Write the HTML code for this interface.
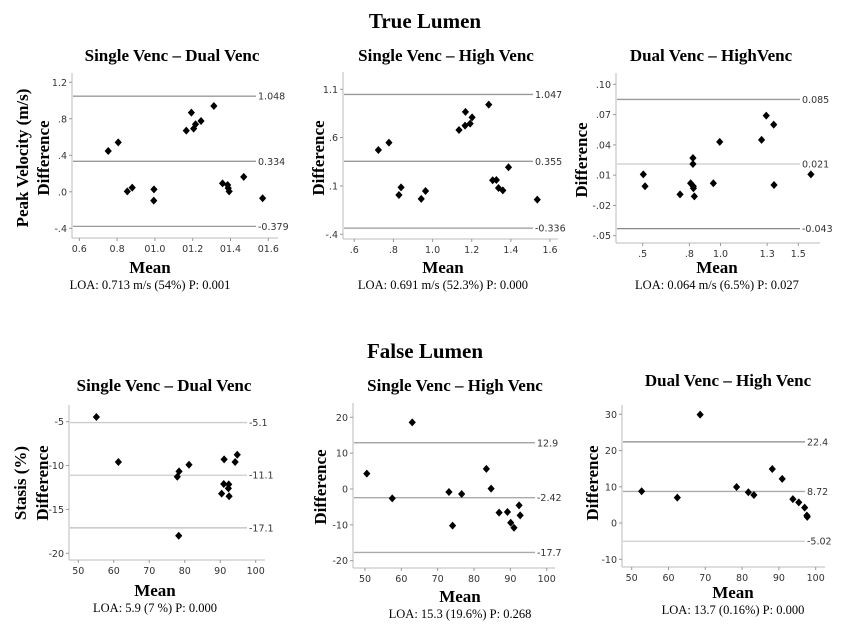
<!DOCTYPE html>
<html><head><meta charset="utf-8"><style>
html,body{margin:0;padding:0;background:#fff;}
svg{display:block;}
</style></head><body>
<svg id="fig" width="850" height="633" viewBox="0 0 850 633" xmlns="http://www.w3.org/2000/svg">
<text x="425" y="28" text-anchor="middle" font-family="Liberation Serif, serif" font-weight="bold" font-size="21">True Lumen</text>
<text x="425" y="358" text-anchor="middle" font-family="Liberation Serif, serif" font-weight="bold" font-size="21">False Lumen</text>
</svg>
<script>
// ---- data ----
const c1MeanX=[0.753,0.806,0.854,0.880,0.995,0.994,1.166,1.193,1.205,1.215,1.244,1.312,1.358,1.385,1.388,1.393,1.470,1.570];
const c1DiffY=[0.447,0.542,0.005,0.046,0.027,-0.097,0.670,0.867,0.692,0.740,0.776,0.940,0.093,0.075,0.040,0.005,0.163,-0.070];
const c1Loa=[1.048,0.334,-0.379];
const c1XTicks=["0.6","0.8","01.0","01.2","01.4","01.6"];
const c1YTicks=["1.2",".8",".4",".0","-.4"];

const c2MeanX=[0.723,0.777,0.839,0.828,0.942,0.964,1.135,1.166,1.168,1.192,1.202,1.287,1.307,1.326,1.337,1.359,1.388,1.535];
const c2DiffY=[0.472,0.548,0.086,0.007,-0.034,0.048,0.679,0.724,0.866,0.745,0.810,0.941,0.159,0.162,0.079,0.055,0.293,-0.041];
const c2Loa=[1.047,0.355,-0.336];
const c2XTicks=[".6",".8","1.0","1.2","1.4","1.6"];
const c2YTicks=["1.1",".6",".1","-.4"];

const c3MeanX=[0.504,0.515,0.740,0.808,0.823,0.823,0.825,0.826,0.832,0.954,0.995,1.264,1.294,1.342,1.344,1.581];
const c3DiffY=[0.0108,-0.001,-0.009,0.002,0.027,0.021,-0.001,-0.003,-0.011,0.002,0.043,0.045,0.069,0.060,0.0002,0.0108];
const c3Loa=[0.085,0.021,-0.043];
const c3XTicks=[".5",".8","1.0","1.3","1.5"];
const c3YTicks=[".10",".07",".04",".01","-.02","-.05"];

const c4MeanX=[55.1,61.3,77.9,78.4,78.3,81.2,91.1,94.2,94.8,91.0,92.4,92.3,90.4,92.5];
const c4DiffY=[-4.47,-9.6,-11.27,-10.66,-18.0,-9.9,-9.29,-9.6,-8.76,-12.1,-12.14,-12.6,-13.2,-13.5];
const c4Loa=[-5.1,-11.1,-17.1];
const c4XTicks=["50","60","70","80","90","100"];
const c4YTicks=["-5","-10","-15","-20"];

const c5MeanX=[50.5,57.5,63.0,73.1,74.1,76.6,83.4,84.7,86.9,89.2,90.1,91.0,92.4,92.7];
const c5DiffY=[4.28,-2.6,18.6,-0.84,-10.2,-1.4,5.6,0.1,-6.6,-6.4,-9.4,-10.8,-4.56,-7.35];
const c5Loa=[12.9,-2.42,-17.7];
const c5XTicks=["50","60","70","80","90","100"];
const c5YTicks=["20","10","0","-10","-20"];

const c6MeanX=[52.7,62.4,68.6,78.5,81.7,83.2,88.2,90.9,93.8,95.4,97.0,97.6,97.7];
const c6DiffY=[8.76,7.0,29.9,9.95,8.5,7.75,14.9,12.2,6.6,5.7,4.25,2.1,1.7];
const c6Loa=[22.4,8.72,-5.02];
const c6XTicks=["50","60","70","80","90","100"];
const c6YTicks=["30","20","10","0","-10"];

// ---- layout ----
const NS="http://www.w3.org/2000/svg";
const svg=document.getElementById('fig');
function el(tag,attrs,parent){const e=document.createElementNS(NS,tag);for(const k in attrs)e.setAttribute(k,attrs[k]);(parent||svg).appendChild(e);return e;}

const charts=[
 {id:'c1',title:'Single Venc – Dual Venc',tcx:172,tcy:61,ax:72,top:73,bot:238,right:278,lineEnd:256,
  xd:[0.6,1.6],xp:[79.3,268.3],xv:[0.6,0.8,1.0,1.2,1.4,1.6],yd:[1.2,-0.4],yp:[82.3,228.3],yv:[1.2,0.8,0.4,0.0,-0.4],
  X:c1MeanX,Y:c1DiffY,L:c1Loa,XT:c1XTicks,YT:c1YTicks,loaCol:['#999','#999','#999'],loaFmt:['1.048','0.334','-0.379'],
  ytitle:[['Peak Velocity (m/s)',22],['Difference',43]],ycy:158,mean:[150,273],loa:[150,289,'LOA: 0.713 m/s (54%)  P: 0.001']},
 {id:'c2',title:'Single Venc – High Venc',tcx:446,tcy:61,ax:343,top:72,bot:239,right:558,lineEnd:533,
  xd:[0.6,1.6],xp:[354.3,550],xv:[0.6,0.8,1.0,1.2,1.4,1.6],yd:[1.1,-0.4],yp:[89.3,234.3],yv:[1.1,0.6,0.1,-0.4],
  X:c2MeanX,Y:c2DiffY,L:c2Loa,XT:c2XTicks,YT:c2YTicks,loaCol:['#999','#999','#999'],loaFmt:['1.047','0.355','-0.336'],
  ytitle:[['Difference',318]],ycy:158,mean:[443,273],loa:[443,289,'LOA: 0.691 m/s (52.3%)  P: 0.000']},
 {id:'c3',title:'Dual Venc – HighVenc',tcx:711,tcy:61,ax:616,top:73,bot:243,right:820,lineEnd:800,
  xd:[0.5,1.5],xp:[642.7,798.3],xv:[0.5,0.8,1.0,1.3,1.5],yd:[0.10,-0.05],yp:[84.3,235.7],yv:[0.10,0.07,0.04,0.01,-0.02,-0.05],
  X:c3MeanX,Y:c3DiffY,L:c3Loa,XT:c3XTicks,YT:c3YTicks,loaCol:['#999','#ccc','#888'],loaFmt:['0.085','0.021','-0.043'],
  ytitle:[['Difference',581]],ycy:160,mean:[717,273],loa:[717,289,'LOA: 0.064 m/s (6.5%)  P: 0.027']},
 {id:'c4',title:'Single Venc – Dual Venc',tcx:164,tcy:391,ax:69,top:405,bot:560,right:265,lineEnd:247,
  xd:[50,100],xp:[78.3,255.7],xv:[50,60,70,80,90,100],yd:[-5,-20],yp:[421.7,553.3],yv:[-5,-10,-15,-20],
  X:c4MeanX,Y:c4DiffY,L:c4Loa,XT:c4XTicks,YT:c4YTicks,loaCol:['#ccc','#ccc','#bbb'],loaFmt:['-5.1','-11.1','-17.1'],
  ytitle:[['Stasis (%)',20],['Difference',42]],ycy:483,mean:[155,596],loa:[155,612,'LOA: 5.9 (7 %)  P: 0.000']},
 {id:'c5',title:'Single Venc – High Venc',tcx:455,tcy:391,ax:353,top:403,bot:568,right:555,lineEnd:535,
  xd:[50,100],xp:[365,546.7],xv:[50,60,70,80,90,100],yd:[20,-20],yp:[417.3,560.7],yv:[20,10,0,-10,-20],
  X:c5MeanX,Y:c5DiffY,L:c5Loa,XT:c5XTicks,YT:c5YTicks,loaCol:['#999','#aaa','#aaa'],loaFmt:['12.9','-2.42','-17.7'],
  ytitle:[['Difference',320]],ycy:487,mean:[460,602],loa:[460,618,'LOA: 15.3 (19.6%)  P: 0.268']},
 {id:'c6',title:'Dual Venc – High Venc',tcx:728,tcy:386,ax:622,top:405,bot:567,right:825,lineEnd:805,
  xd:[50,100],xp:[631.7,815.7],xv:[50,60,70,80,90,100],yd:[30,-10],yp:[414.3,559.3],yv:[30,20,10,0,-10],
  X:c6MeanX,Y:c6DiffY,L:c6Loa,XT:c6XTicks,YT:c6YTicks,loaCol:['#888','#aaa','#ccc'],loaFmt:['22.4','8.72','-5.02'],
  ytitle:[['Difference',592]],ycy:483,mean:[733,598],loa:[733,614,'LOA: 13.7 (0.16%)  P: 0.000']}
];

charts.forEach(c=>{
 const sx=v=>c.xp[0]+(v-c.xd[0])/(c.xd[1]-c.xd[0])*(c.xp[1]-c.xp[0]);
 const sy=v=>c.yp[0]+(v-c.yd[0])/(c.yd[1]-c.yd[0])*(c.yp[1]-c.yp[0]);
 const g=el('g',{});
 
 
 const t=el('text',{x:c.tcx,y:c.tcy,'text-anchor':'middle','font-family':'Liberation Serif, serif','font-weight':'bold','font-size':'17'},g);
 t.textContent=c.title;
 
 
 const ya=el('line',{x1:c.ax,y1:c.top,x2:c.ax,y2:c.bot,stroke:'#bbb','stroke-width':1},g);
 
 
 const xa=el('line',{x1:c.ax,y1:c.bot,x2:c.right,y2:c.bot,stroke:'#bbb','stroke-width':1},g);
 
 
 c.yv.forEach((v,i)=>{
  const y=sy(v);
  el('line',{x1:c.ax-3,y1:y,x2:c.ax,y2:y,stroke:'#999'},g);
  const tx=el('text',{x:c.ax-5,y:y+3.5,'text-anchor':'end','font-family':'DejaVu Sans, sans-serif','font-size':'9.5',fill:'#333'},g);
  tx.textContent=c.YT[i];
  
  
 });
 c.xv.forEach((v,i)=>{
  const x=sx(v);
  el('line',{x1:x,y1:c.bot,x2:x,y2:c.bot+3,stroke:'#999'},g);
  const tx=el('text',{x:x,y:c.bot+14,'text-anchor':'middle','font-family':'DejaVu Sans, sans-serif','font-size':'9.5',fill:'#333'},g);
  tx.textContent=c.XT[i];
  
  
 });
 c.L.forEach((v,i)=>{
  const y=sy(v);
  const ln=el('line',{x1:c.ax+1,y1:y,x2:c.lineEnd,y2:y,stroke:c.loaCol[i],'stroke-width':1.3},g);
  
  
  const tx=el('text',{x:c.lineEnd+2,y:y+3.5,'font-family':'DejaVu Sans, sans-serif','font-size':'9.5',fill:'#333'},g);
  tx.textContent=c.loaFmt[i];
  
  
 });
 c.X.forEach((v,i)=>{
  const x=sx(v),y=sy(c.Y[i]);
  const p=el('path',{d:`M${x} ${y-4}L${x+3.6} ${y}L${x} ${y+4}L${x-3.6} ${y}Z`,fill:'#000'},g);
  
  
 });
 c.ytitle.forEach(([s,x])=>{
  const tx=el('text',{x:x,y:c.ycy,'text-anchor':'middle',transform:`rotate(-90 ${x} ${c.ycy})`,'font-family':'Liberation Serif, serif','font-weight':'bold','font-size':'17',dy:'6'},g);
  tx.textContent=s;
  
  
 });
 const m=el('text',{x:c.mean[0],y:c.mean[1],'text-anchor':'middle','font-family':'Liberation Serif, serif','font-weight':'bold','font-size':'17'},g);
 m.textContent='Mean';
 
 
 const l=el('text',{x:c.loa[0],y:c.loa[1],'text-anchor':'middle','font-family':'Liberation Serif, serif','font-size':'12.5'},g);
 l.textContent=c.loa[2];
 
 
});
</script>
</body></html>
